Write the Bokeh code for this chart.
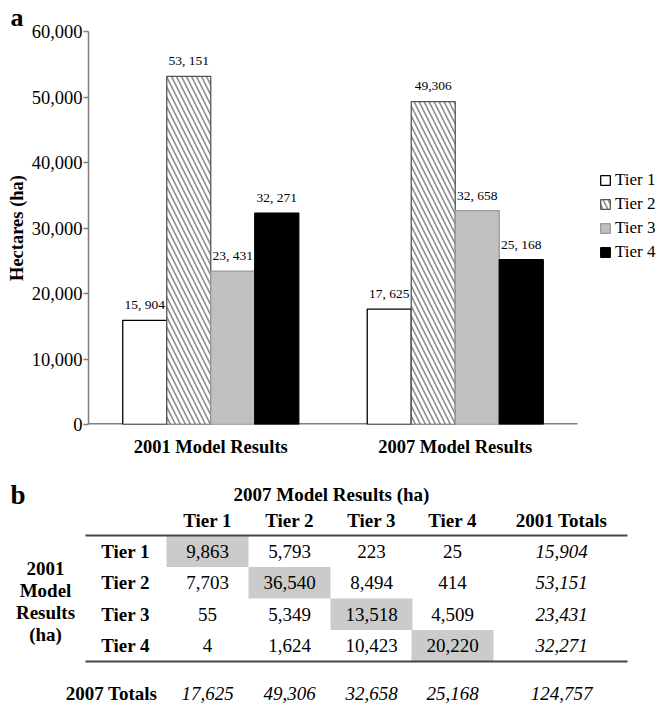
from bokeh.plotting import figure
from bokeh.models import (ColumnDataSource, Range1d, Legend, LegendItem,
                          NumeralTickFormatter, FixedTicker, Title)
from bokeh.layouts import column
from bokeh.core.properties import value
from bokeh.embed import file_html
from bokeh.resources import INLINE

FONT = "Liberation Serif"

# ---------------- data ----------------
groups = ["2001 Model Results", "2007 Model Results"]
tiers = ["Tier 1", "Tier 2", "Tier 3", "Tier 4"]
area_2001 = [15904, 53151, 23431, 32271]
area_2007 = [17625, 49306, 32658, 25168]
labels_2001 = ["15, 904", "53, 151", "23, 431", "32, 271"]
labels_2007 = ["17, 625", "49,306", "32, 658", "25, 168"]
y_ticks = [0, 10000, 20000, 30000, 40000, 50000, 60000]

table_title = "2007 Model Results (ha)"
table_cols = ["Tier 1", "Tier 2", "Tier 3", "Tier 4"]
table_rows = ["Tier 1", "Tier 2", "Tier 3", "Tier 4"]
transitions = [
    [9863, 5793, 223, 25],
    [7703, 36540, 8494, 414],
    [55, 5349, 13518, 4509],
    [4, 1624, 10423, 20220],
]
totals_2001 = [15904, 53151, 23431, 32271]
totals_2007 = [17625, 49306, 32658, 25168]
grand_total = 124757
row_header_lines = ["2001", "Model", "Results", "(ha)"]

# ---------------- styles / layout ----------------
fills = ["white", "white", "#c0c0c0", "black"]
outlines = ["black", "#555555", "#9a9a9a", "black"]
hatches = [None, "left_diagonal_line", None, None]
offsets = [-0.27, -0.09, 0.09, 0.27]
BAR_W = 0.18
HATCH = dict(hatch_color="#8c8c8c", hatch_scale=10, hatch_weight=1.6)

Y_MAX = 60000
FRAME_H = 395
FRAME_LEFT = 88
FIG_W = 657
GROUP_PX = 244.5                      # pixels per category slot
X_END = (FIG_W - FRAME_LEFT) / GROUP_PX
label_gap = 15.5 * Y_MAX / FRAME_H    # label centre ~15 px above the bar top

group_pos = [k + 0.5 for k in range(len(groups))]

# ---------------- panel a ----------------
p = figure(x_range=Range1d(0, X_END), y_range=Range1d(0, Y_MAX),
           width=FIG_W, height=468, min_border_left=FRAME_LEFT, min_border_right=0,
           min_border_top=29, min_border_bottom=44,
           output_backend="svg", toolbar_location=None)
p.frame_align = False
p.outline_line_color = None
p.xgrid.grid_line_color = None
p.ygrid.grid_line_color = None

p.yaxis.ticker = FixedTicker(ticks=y_ticks)
p.yaxis.formatter = NumeralTickFormatter(format="0,0")
p.yaxis.major_label_text_font = FONT
p.yaxis.major_label_text_font_size = "18.5px"
p.yaxis.major_label_text_color = "black"
p.yaxis.major_label_standoff = 1
p.yaxis.axis_line_color = "#808080"
p.yaxis.axis_line_width = 1.5
p.yaxis.major_tick_line_color = "#808080"
p.yaxis.major_tick_line_width = 1.5
p.yaxis.major_tick_out = 5
p.yaxis.major_tick_in = 0
p.yaxis.minor_tick_line_color = None
p.yaxis.axis_label = "Hectares (ha)"
p.yaxis.axis_label_text_font = FONT
p.yaxis.axis_label_text_font_style = "bold"
p.yaxis.axis_label_text_font_size = "18.5px"
p.yaxis.axis_label_text_color = "black"
p.yaxis.axis_label_standoff = 2

p.xaxis.ticker = FixedTicker(ticks=group_pos)
p.xaxis.major_label_overrides = {pos: g for pos, g in zip(group_pos, groups)}
p.xaxis.major_tick_line_color = None
p.xaxis.minor_tick_line_color = None
p.xaxis.axis_line_color = None
p.xaxis.major_label_text_font = FONT
p.xaxis.major_label_text_font_style = "bold"
p.xaxis.major_label_text_font_size = "18.5px"
p.xaxis.major_label_text_color = "black"
p.xaxis.major_label_standoff = 6

# baseline under the bar groups
p.segment(x0=[0], y0=[0], x1=[len(groups)], y1=[0], line_color="#808080", line_width=3)

items = []
for i, tier in enumerate(tiers):
    vals = [area_2001[i], area_2007[i]]
    src = ColumnDataSource(dict(x=[g + offsets[i] for g in group_pos], value=vals,
                                label_y=[v + label_gap for v in vals],
                                label=[labels_2001[i], labels_2007[i]]))
    kw = dict(fill_color=fills[i], line_color=outlines[i], line_width=1.3)
    if hatches[i]:
        kw.update(hatch_pattern=hatches[i], **HATCH)
    r = p.vbar(x="x", top="value", width=BAR_W, source=src, **kw)
    p.text(x="x", y="label_y", text="label", source=src,
           text_font=value(FONT), text_font_size="13.5px", text_align="center",
           text_baseline="middle", text_color="black")
    items.append(LegendItem(label=tier, renderers=[r]))

legend = Legend(items=items, location=(511, 162), padding=0, margin=0, spacing=4,
                glyph_width=12, glyph_height=12, label_standoff=4,
                label_text_font=FONT, label_text_font_size="17px", label_text_color="black",
                border_line_color=None, background_fill_alpha=0)
p.add_layout(legend)

p.title = Title(text="a", align="left", offset=-78, standoff=0, vertical_align="bottom",
                text_font=FONT, text_font_style="bold", text_font_size="26px",
                text_color="black")

# ---------------- panel b (table) ----------------
t = figure(width=FIG_W, height=236, x_range=Range1d(0, FIG_W), y_range=Range1d(704, 468),
           min_border=0, min_border_left=0, min_border_right=0,
           min_border_top=0, min_border_bottom=0,
           x_axis_type=None, y_axis_type=None,
           output_backend="svg", toolbar_location=None)
t.frame_align = False
t.outline_line_color = None
t.grid.visible = False

col_x = [207, 289, 371, 452]
total_x = 561
row_top = 535
row_h = 31.5
row_label_x = 125
header_y = 520
title_y = 494
totals_y = 693
line_x0, line_x1 = 85, 627

row_y = [row_top + row_h * (k + 0.5) for k in range(len(table_rows))]

# diagonal gray cells
t.rect(x=col_x, y=row_y, width=82, height=row_h, fill_color="#cbcbcb", line_color=None)

# rules
t.segment(x0=[line_x0, line_x0], y0=[row_top, row_top + row_h * 4],
          x1=[line_x1, line_x1], y1=[row_top, row_top + row_h * 4],
          line_color="#444444", line_width=2)

def txt(xs, ys, texts, style="normal", align="center"):
    t.text(x=xs, y=ys, text=texts, text_font=value(FONT), text_font_style=style,
           text_font_size="19px", text_align=align, text_baseline="middle", text_color="black")

txt([331], [title_y], [table_title], "bold")
txt(col_x + [total_x], [header_y] * 5, table_cols + ["2001 Totals"], "bold")
txt([row_label_x] * 4, row_y, table_rows, "bold")
txt([45] * 4, [568 + 22 * k for k in range(4)], row_header_lines, "bold")

cx, cy, ct = [], [], []
for r_i in range(4):
    for c_i in range(4):
        cx.append(col_x[c_i])
        cy.append(row_y[r_i])
        ct.append(f"{transitions[r_i][c_i]:,}")
txt(cx, cy, ct)

txt([total_x] * 4, row_y, [f"{v:,}" for v in totals_2001], "italic")
txt([111], [totals_y], ["2007 Totals"], "bold")
txt(col_x + [total_x], [totals_y] * 5, [f"{v:,}" for v in totals_2007] + [f"{grand_total:,}"], "italic")

t.text(x=[10], y=[494], text=["b"], text_font=value(FONT), text_font_style="bold",
       text_font_size="27px", text_align="left", text_baseline="alphabetic", text_color="black")

layout = column(p, t, spacing=0)
open("out.html", "w").write(file_html(layout, INLINE))
